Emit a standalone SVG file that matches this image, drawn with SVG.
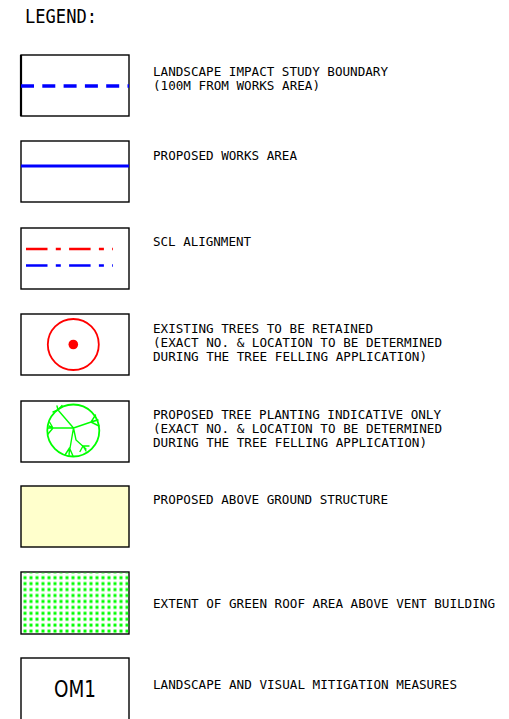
<svg xmlns="http://www.w3.org/2000/svg" width="509" height="719" viewBox="0 0 509 719">
<style>
.box{fill:#fff;stroke:#000;stroke-width:1.4}
.t{font-family:"DejaVu Sans Mono","Liberation Mono",monospace;font-size:12.6px;fill:#000}
.title{font-family:"DejaVu Sans Mono","Liberation Mono",monospace;font-size:19.5px;fill:#000}
.om{font-family:"DejaVu Sans","Liberation Sans",sans-serif;font-size:23px;fill:#000}
.br{fill:none;stroke:#00ff00;stroke-width:1.4;stroke-linecap:round}
</style>
<defs>
<pattern id="dots" patternUnits="userSpaceOnUse" x="22" y="574.7" width="6" height="5.93">
<rect x="1.5" y="1.5" width="3" height="3" fill="#00ff00"/>
</pattern>
</defs>
<rect width="509" height="719" fill="#fff"/>
<text class="title" x="25" y="23" textLength="72" lengthAdjust="spacingAndGlyphs">LEGEND:</text>

<g id="study-boundary">
<rect class="box" x="21" y="55" width="108" height="61"/>
<line x1="21" y1="55" x2="21" y2="116" stroke="#000" stroke-width="2.2"/>
<line x1="21" y1="86" x2="129" y2="86" stroke="#0000ff" stroke-width="3.4" stroke-dasharray="13 8.3"/>
<text class="t" x="153" y="76" textLength="235" lengthAdjust="spacingAndGlyphs">LANDSCAPE IMPACT STUDY BOUNDARY</text>
<text class="t" x="153" y="90" textLength="167" lengthAdjust="spacingAndGlyphs">(100M FROM WORKS AREA)</text>
</g>

<g id="works-area">
<rect class="box" x="21" y="141" width="108" height="61"/>
<line x1="21" y1="166" x2="129" y2="166" stroke="#0000ff" stroke-width="2.8"/>
<text class="t" x="153" y="160" textLength="144" lengthAdjust="spacingAndGlyphs">PROPOSED WORKS AREA</text>
</g>

<g id="scl-alignment">
<rect class="box" x="21" y="228" width="108" height="61"/>
<line x1="26" y1="249" x2="113" y2="249" stroke="#ff0000" stroke-width="2.5" stroke-dasharray="21.5 8.3 5 8.3"/>
<line x1="26" y1="265.5" x2="113" y2="265.5" stroke="#0000ff" stroke-width="2.5" stroke-dasharray="21.5 8.3 5 8.3"/>
<text class="t" x="153" y="246" textLength="98" lengthAdjust="spacingAndGlyphs">SCL ALIGNMENT</text>
</g>

<g id="existing-trees">
<rect class="box" x="21" y="314" width="108" height="61"/>
<circle cx="73.3" cy="344.5" r="25.5" fill="none" stroke="#ff0000" stroke-width="1.8"/>
<circle cx="73.3" cy="344.5" r="4.8" fill="#ff0000"/>
<text class="t" x="153" y="333" textLength="220" lengthAdjust="spacingAndGlyphs">EXISTING TREES TO BE RETAINED</text>
<text class="t" x="153" y="347" textLength="289" lengthAdjust="spacingAndGlyphs">(EXACT NO. &amp; LOCATION TO BE DETERMINED</text>
<text class="t" x="153" y="361" textLength="274" lengthAdjust="spacingAndGlyphs">DURING THE TREE FELLING APPLICATION)</text>
</g>

<g id="proposed-trees">
<rect class="box" x="21" y="401" width="108" height="61"/>
<circle cx="73.3" cy="430.5" r="26" fill="none" stroke="#00ff00" stroke-width="1.8"/>
<path class="br" d="M73.5 428 L58 410 M58 410 L53 412 M58 410 L62 405.5 M58 410 L57 406 M73.5 428 L48 428 M53 428 L49.5 422 M53 428 L48 434 M53 428 L49 426 M73.5 428 L97 420 M91 422 L95.5 415 M91 422 L99 426 M91 422 L98 420 M73.5 428 L69 454 M69.5 448 L65 455 M69.5 448 L73 456 M69.5 448 L69 456 M73.5 428 L76 440 L86 449 M83 446 L80 451.5 M83 446 L89 446 M83 446 L86 451"/>
<text class="t" x="153" y="419" textLength="288" lengthAdjust="spacingAndGlyphs">PROPOSED TREE PLANTING INDICATIVE ONLY</text>
<text class="t" x="153" y="433" textLength="289" lengthAdjust="spacingAndGlyphs">(EXACT NO. &amp; LOCATION TO BE DETERMINED</text>
<text class="t" x="153" y="447" textLength="274" lengthAdjust="spacingAndGlyphs">DURING THE TREE FELLING APPLICATION)</text>
</g>

<g id="above-ground">
<rect class="box" x="21" y="486" width="108" height="61" style="fill:#ffffcc"/>
<text class="t" x="153" y="504" textLength="235" lengthAdjust="spacingAndGlyphs">PROPOSED ABOVE GROUND STRUCTURE</text>
</g>

<g id="green-roof">
<rect class="box" x="21" y="572" width="108" height="62"/>
<rect x="21.7" y="572.7" width="106.6" height="60.6" fill="url(#dots)"/>
<text class="t" x="153" y="608" textLength="342" lengthAdjust="spacingAndGlyphs">EXTENT OF GREEN ROOF AREA ABOVE VENT BUILDING</text>
</g>

<g id="mitigation">
<rect class="box" x="21" y="658" width="108" height="66"/>
<text class="om" x="75" y="697" text-anchor="middle" textLength="42" lengthAdjust="spacingAndGlyphs">OM1</text>
<text class="t" x="153" y="689" textLength="304" lengthAdjust="spacingAndGlyphs">LANDSCAPE AND VISUAL MITIGATION MEASURES</text>
</g>
</svg>
